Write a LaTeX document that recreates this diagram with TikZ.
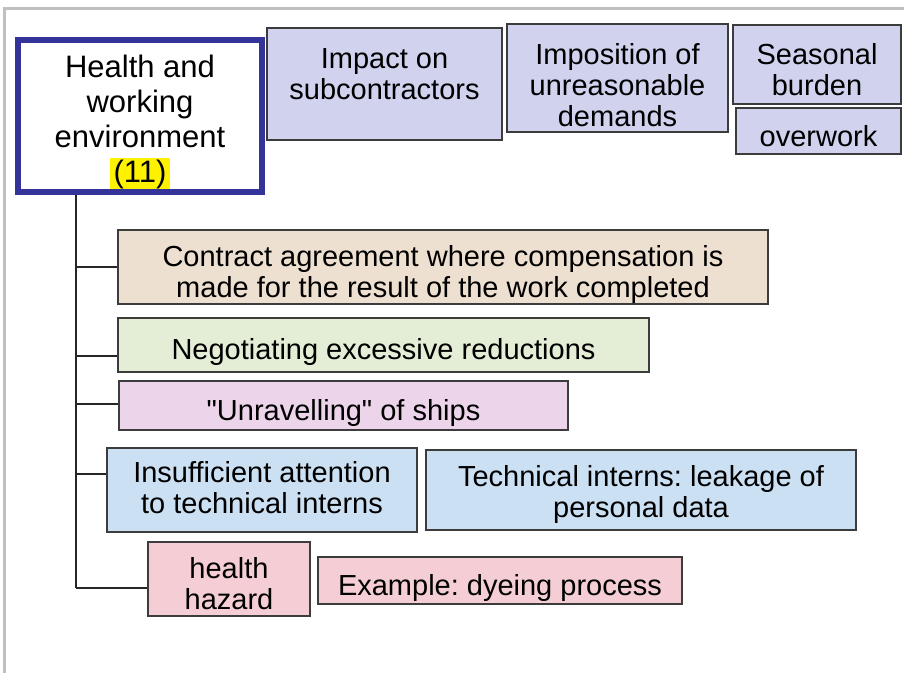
\documentclass[tikz,border=0pt]{standalone}
\usepackage{fontspec}
\setmainfont{Liberation Sans}
\usepackage{tikz}
\frenchspacing

\definecolor{framegray}{RGB}{192,192,192}
\definecolor{edgegray}{RGB}{60,60,60}
\definecolor{mainblue}{RGB}{51,51,153}
\definecolor{lavender}{RGB}{208,210,238}
\definecolor{tan}{RGB}{238,224,208}
\definecolor{palegreen}{RGB}{228,238,214}
\definecolor{orchid}{RGB}{236,212,234}
\definecolor{skyblue}{RGB}{204,224,244}
\definecolor{rose}{RGB}{244,206,212}

\tikzset{
    box/.style={draw=edgegray, line width=1.3pt, inner sep=0pt, align=center,
        font=\fontsize{29}{31}\selectfont,
        execute at begin node={\rule{0pt}{36pt}},
        execute at end node={\rule[-6pt]{0pt}{0pt}}},
    branch/.style={line width=1.5pt, draw=black!85}
}

\begin{document}
\begin{tikzpicture}[x=1pt, y=-1pt]
            \useasboundingbox (0,0) rectangle (904,672);
            \draw[framegray, line width=3pt] (4,680) -- (4,8) -- (910,8);
            \node[draw=mainblue, line width=6pt, inner sep=0pt, align=center,
                minimum width=244, minimum height=152,
                font=\fontsize{31}{35}\selectfont] (main) at (140,116)
                {\rule{0pt}{34pt}Health and\\working\\environment\\
                \setlength{\fboxsep}{0pt}\colorbox{yellow}{\rule[-7pt]{0pt}{31pt}\hspace{4pt}(11)\hspace{4pt}}};
            \node[box, fill=lavender, minimum width=235, minimum height=112] (impact) at (384.5,84)
                {Impact on\\subcontractors\rule[-19pt]{0pt}{0pt}};
            \node[box, fill=lavender, minimum width=221, minimum height=106] (imposition) at (617.5,78)
                {\rule{0pt}{40pt}Imposition of\\unreasonable\\demands};
            \node[box, fill=lavender, minimum width=168, minimum height=79] (seasonal) at (817,64.5)
                {\rule{0pt}{36pt}Seasonal\\burden};
            \node[box, fill=lavender, minimum width=165, minimum height=46] (overwork) at (818.5,131)
                {overwork};
            \node[box, fill=tan, minimum width=650, minimum height=74] (contract) at (443,267)
                {\rule{0pt}{36pt}Contract agreement where compensation is\\made for the result of the work completed};
            \node[box, fill=palegreen, minimum width=531, minimum height=54] (negotiating) at (383.5,345)
                {Negotiating excessive reductions};
            \node[box, fill=orchid, minimum width=449, minimum height=49] (unravelling) at (343.5,405.5)
                {\textquotedbl Unravelling\textquotedbl{} of ships};
            \node[box, fill=skyblue, minimum width=310, minimum height=84] (insufficient) at (262,490)
                {Insufficient attention\\to technical interns};
            \node[box, fill=skyblue, minimum width=430, minimum height=80] (technical) at (641,490)
                {\rule{0pt}{30pt}Technical interns: leakage of\\personal data};
            \node[box, fill=rose, minimum width=162, minimum height=74] (hazard) at (229,579)
                {\rule{0pt}{36pt}health\\hazard};
            \node[box, fill=rose, minimum width=364, minimum height=47] (example) at (500,580.5)
                {Example: dyeing process};
            \coordinate (trunktop) at (76,195);
            \coordinate (trunkend) at (76,588);
            \draw[branch] (trunktop) -- (trunkend);
            \draw[branch] (trunktop |- contract.west) -- (contract.west);
            \draw[branch] ([yshift=-11pt]negotiating.west -| trunktop) -- ([yshift=-11pt]negotiating.west);
            \draw[branch] ([yshift=1.5pt]unravelling.west -| trunktop) -- ([yshift=1.5pt]unravelling.west);
            \draw[branch] ([yshift=16pt]insufficient.west -| trunktop) -- ([yshift=16pt]insufficient.west);
            \draw[branch] (trunkend) -- ([yshift=-9pt]hazard.west);
        \end{tikzpicture}
\end{document}
